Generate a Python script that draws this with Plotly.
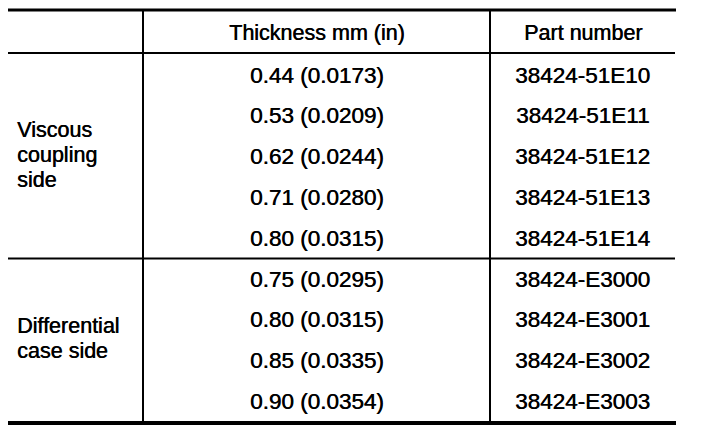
import plotly.graph_objects as go

# table content
header = ["", "Thickness mm (in)", "Part number"]
groups = ["Viscous<br>coupling<br>side", "Differential<br>case side"]
group_rows = [[0, 1, 2, 3, 4], [5, 6, 7, 8]]
thickness = ["0.44 (0.0173)", "0.53 (0.0209)", "0.62 (0.0244)", "0.71 (0.0280)",
             "0.80 (0.0315)", "0.75 (0.0295)", "0.80 (0.0315)", "0.85 (0.0335)",
             "0.90 (0.0354)"]
parts = ["38424-51E10", "38424-51E11", "38424-51E12", "38424-51E13", "38424-51E14",
         "38424-E3000", "38424-E3001", "38424-E3002", "38424-E3003"]

# layout in pixel units of the page (y grows downward); body has an 8px margin
W, H, PAD = 704, 442, 8
x_left, x_right = 8, 675
col_lines = [143, 490]
col_centers = [15, (143 + 490) / 2, (490 + 675) / 2]
y_top, y_head, y_bottom = 10, 53, 423
header_y = 33
row0, pitch = 75, 40.8
row_y = [row0 + i * pitch for i in range(len(thickness))]
sep_y = [(row_y[g[-1]] + row_y[g[-1] + 1]) / 2 for g in group_rows[:-1]]
label_gap = 25

family = "Liberation Sans, Arial, sans-serif"
# slight shadow to thicken strokes like the scanned print
ink = "0.5px 0 0 black"
text_font = dict(family=family, size=21.5, color="black", shadow=ink)
num_font = dict(family=family, size=22.5, color="black", shadow=ink)

fig = go.Figure()
fig.add_trace(go.Scatter(x=[PAD + 1], y=[PAD + 1], mode="markers", marker=dict(opacity=0),
                         hoverinfo="skip", showlegend=False))

shapes = []
shapes.append(dict(type="line", x0=x_left, x1=x_right + 1, y0=y_top, y1=y_top,
                   line=dict(color="black", width=3)))
shapes.append(dict(type="line", x0=x_left, x1=x_right, y0=y_head, y1=y_head,
                   line=dict(color="black", width=2)))
for s in sep_y:
    shapes.append(dict(type="line", x0=x_left, x1=x_right, y0=s, y1=s,
                       line=dict(color="black", width=2)))
shapes.append(dict(type="line", x0=x_left, x1=x_right + 1, y0=y_bottom, y1=y_bottom,
                   line=dict(color="black", width=4)))
for cx in col_lines:
    shapes.append(dict(type="line", x0=cx, x1=cx, y0=y_top, y1=y_bottom,
                       line=dict(color="black", width=2)))

annotations = []
for i, h in enumerate(header):
    if h:
        annotations.append(dict(x=col_centers[i], y=header_y, text=h, showarrow=False,
                                xanchor="center", yanchor="middle", font=text_font))
for i in range(len(thickness)):
    annotations.append(dict(x=col_centers[1], y=row_y[i], text=thickness[i],
                            showarrow=False, xanchor="center", yanchor="middle", font=num_font))
    annotations.append(dict(x=col_centers[2], y=row_y[i], text=parts[i],
                            showarrow=False, xanchor="center", yanchor="middle", font=num_font))
for g, rows in zip(groups, group_rows):
    lines = g.split("<br>")
    gy = (row_y[rows[0]] + row_y[rows[-1]]) / 2 - 2
    for k, ln in enumerate(lines):
        annotations.append(dict(x=col_centers[0], y=gy + (k - (len(lines) - 1) / 2) * label_gap,
                                text=ln, showarrow=False, xanchor="left", yanchor="middle",
                                font=text_font))

fig.update_layout(
    width=W - PAD, height=H - PAD,
    margin=dict(l=0, r=0, t=0, b=0),
    paper_bgcolor="white", plot_bgcolor="white",
    xaxis=dict(range=[PAD, W], visible=False, fixedrange=True),
    yaxis=dict(range=[H, PAD], visible=False, fixedrange=True),
    shapes=shapes, annotations=annotations,
)

fig.write_html("out.html")
